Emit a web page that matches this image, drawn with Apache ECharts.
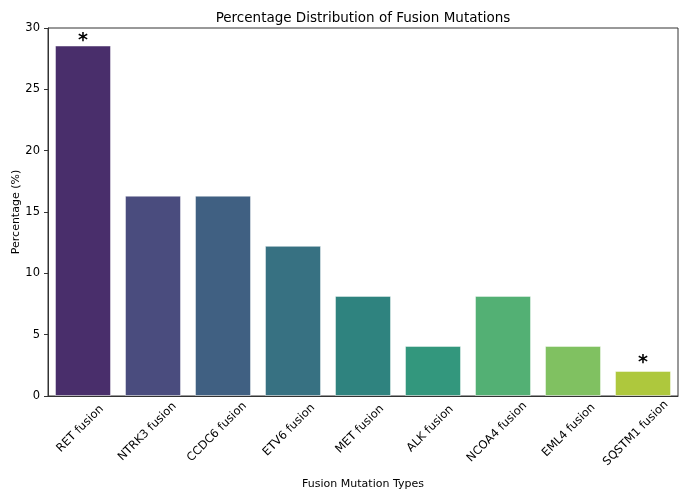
<!DOCTYPE html>
<html>
<head>
<meta charset="utf-8">
<script src="https://cdn.jsdelivr.net/npm/echarts@6/dist/echarts.min.js"></script>
<style>
  html, body { margin: 0; padding: 0; background: #fff; }
  #chart { width: 686px; height: 498px; }
</style>
</head>
<body>
<div id="chart"></div>
<script>
const categories = ['RET fusion', 'NTRK3 fusion', 'CCDC6 fusion', 'ETV6 fusion', 'MET fusion',
  'ALK fusion', 'NCOA4 fusion', 'EML4 fusion', 'SQSTM1 fusion'];
const percentages = [28.57, 16.33, 16.33, 12.24, 8.16, 4.08, 8.16, 4.08, 2.04];
const barColors = ['#492e6b', '#4a4c7e', '#406082', '#377182', '#2f837f',
  '#33977d', '#53b074', '#80c161', '#aec83d'];
const starred = ['RET fusion', 'SQSTM1 fusion'];
const yTicks = [0, 5, 10, 15, 20, 25, 30];

const font = 'DejaVu Sans';
const labelSize = 11.5;
const chart = echarts.init(document.getElementById('chart'));

// matplotlib-style rotated labels: centred on the tick, tops lined up.
// push each label down with padding so its rotated box starts at the same y
const ctx = document.createElement('canvas').getContext('2d');
ctx.font = labelSize + 'px "' + font + '"';
const labelTop = 10;     // px below axis line where rotated boxes start
const labelMargin = 30;  // anchor distance used by echarts
const xLabels = categories.map(c => {
  const w = ctx.measureText(c).width;
  const centre = labelTop + 0.354 * (w + labelSize);
  const s = Math.max(0, centre - labelMargin);
  const p = 1.414 * s;
  return {
    value: c,
    textStyle: {
      align: 'center', verticalAlign: 'middle',
      padding: [p, p, 0, 0]
    }
  };
});

const seriesData = percentages.map((v, i) => ({
  value: v,
  itemStyle: { color: barColors[i] },
  label: {
    show: starred.includes(categories[i]),
    position: 'top',
    formatter: '*',
    fontSize: 19,
    fontWeight: 'bold',
    color: '#000',
    fontFamily: font,
    distance: i === 0 ? -5 : -2
  }
}));

chart.setOption({
  animation: false,
  title: {
    text: 'Percentage Distribution of Fusion Mutations',
    left: 358,
    textAlign: 'center',
    top: 6,
    textStyle: { fontFamily: font, fontSize: 13.5, fontWeight: 'normal', color: '#000' }
  },
  grid: {
    left: 48, right: 8, top: 28, bottom: 102,
    outerBoundsMode: 'none',
    show: true, borderColor: '#333', borderWidth: 1
  },
  xAxis: {
    type: 'category',
    data: xLabels,
    name: 'Fusion Mutation Types',
    nameLocation: 'middle',
    nameMoveOverlap: false,
    nameGap: 83,
    nameTextStyle: { fontFamily: font, fontSize: 11, color: '#000' },
    axisLine: { lineStyle: { color: '#333' } },
    axisTick: { alignWithLabel: true, length: 5, lineStyle: { color: '#333' } },
    axisLabel: {
      rotate: 45, align: 'center', verticalAlign: 'middle',
      fontFamily: font, fontSize: labelSize, color: '#000',
      margin: labelMargin, interval: 0
    }
  },
  yAxis: {
    type: 'value',
    min: 0,
    max: 30,
    interval: 5,
    name: 'Percentage (%)',
    nameLocation: 'middle',
    nameMoveOverlap: false,
    nameGap: 26,
    nameTextStyle: { fontFamily: font, fontSize: 11, color: '#000' },
    splitLine: { show: false },
    axisLine: { show: true, lineStyle: { color: '#333' } },
    axisTick: { show: true, length: 4, lineStyle: { color: '#333' } },
    axisLabel: {
      fontFamily: font, fontSize: 11.5, color: '#000', margin: 8,
      formatter: v => (yTicks.includes(v) ? String(v) : '')
    }
  },
  series: [{
    type: 'bar',
    data: seriesData,
    barWidth: '80%',
    itemStyle: { borderColor: 'rgba(255,255,255,0.45)', borderWidth: 1 }
  }]
});
</script>
</body>
</html>
